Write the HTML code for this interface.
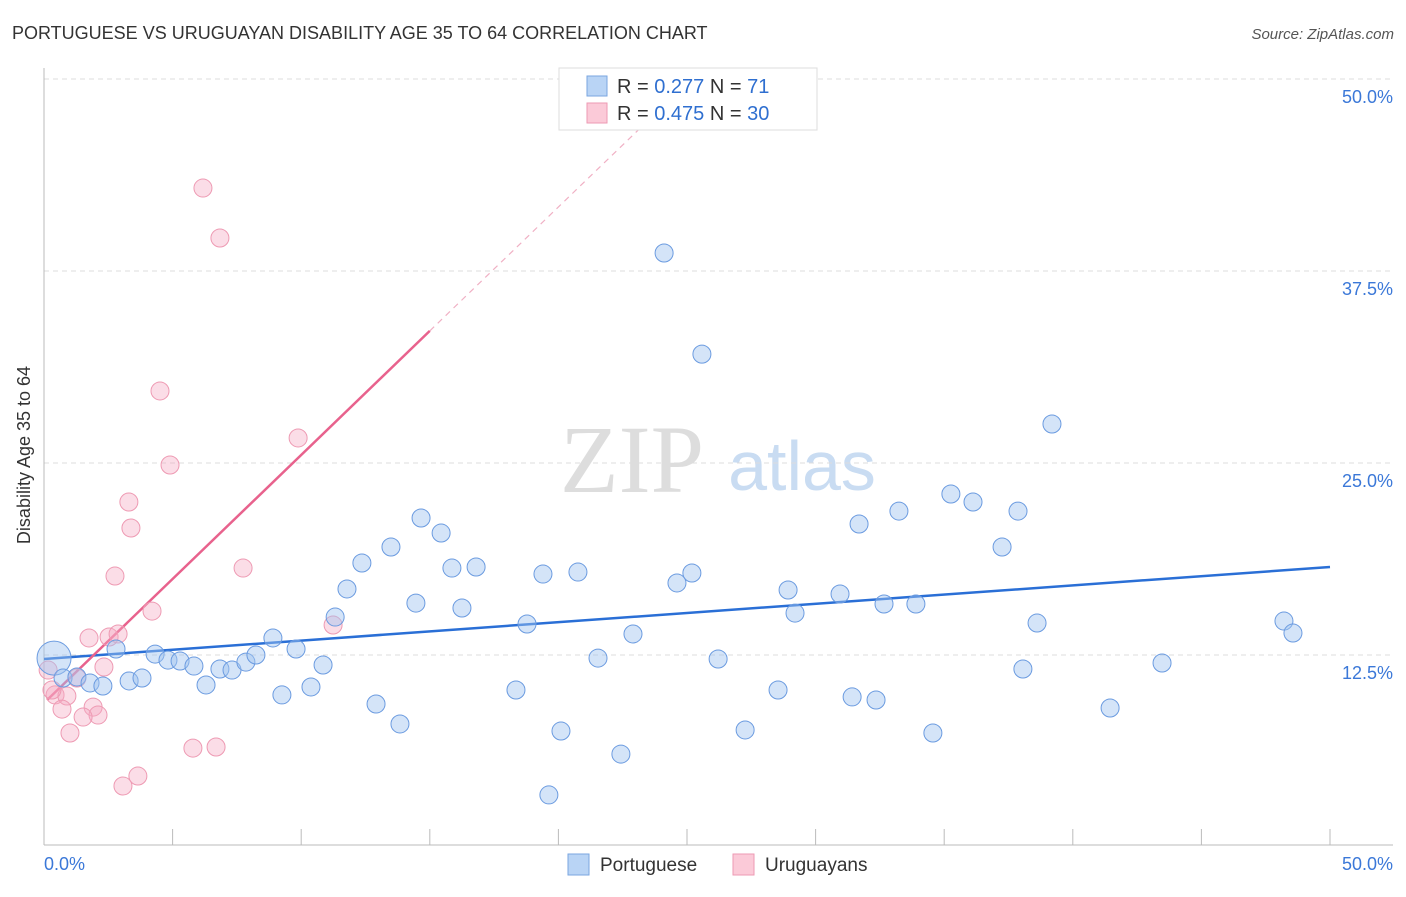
<!DOCTYPE html>
<html><head><meta charset="utf-8"><style>
body{margin:0;background:#fff;font-family:"Liberation Sans",sans-serif;}
</style></head><body>
<svg width="1406" height="892" viewBox="0 0 1406 892" xmlns="http://www.w3.org/2000/svg" id="svg">
<text x="12" y="39" font-size="18" fill="#333">PORTUGUESE VS URUGUAYAN DISABILITY AGE 35 TO 64 CORRELATION CHART</text>
<text x="1394" y="39" font-size="15" fill="#555" font-style="italic" text-anchor="end">Source: ZipAtlas.com</text>
<text x="30" y="455" font-size="18" fill="#333" text-anchor="middle" transform="rotate(-90 30 455)">Disability Age 35 to 64</text>
<g>
<text x="632" y="492" font-size="96" font-family="Liberation Serif,serif" fill="#ddd" text-anchor="middle">ZIP</text>
<text x="802" y="490" font-size="70" fill="#c9dcf2" text-anchor="middle">atlas</text>
</g>
<g id="grid"></g><g id="axes"></g><g id="lines"></g><g id="pts"></g>
<g>
<rect x="559" y="68" width="258" height="62" fill="#fff" stroke="#ddd"/>
<rect x="587" y="76" width="20" height="20" fill="#b9d4f5" stroke="#7aa6e0"/>
<text x="617" y="93" font-size="20" fill="#333">R = <tspan fill="#2f6fd0">0.277</tspan>   N =  <tspan fill="#2f6fd0">71</tspan></text>
<rect x="587" y="103" width="20" height="20" fill="#fbcad8" stroke="#ee9ab3"/>
<text x="617" y="120" font-size="20" fill="#333">R = <tspan fill="#2f6fd0">0.475</tspan>   N = <tspan fill="#2f6fd0">30</tspan></text>
</g>
<g>
<rect x="568" y="854" width="21" height="21" fill="#b9d4f5" stroke="#7aa6e0"/>
<text x="600" y="871" font-size="19" fill="#333">Portuguese</text>
<rect x="733" y="854" width="21" height="21" fill="#fbcad8" stroke="#ee9ab3"/>
<text x="765" y="871" font-size="19" fill="#333">Uruguayans</text>
</g>
</svg>
<script>
const blueX=[0.39,0.74,1.28,1.79,2.29,2.80,3.31,3.81,4.32,4.82,5.29,5.83,6.30,6.84,7.31,7.85,8.24,8.90,9.25,9.80,10.38,10.85,11.32,11.78,12.36,12.91,13.49,13.84,14.46,14.66,15.44,15.86,16.25,16.80,18.35,18.78,19.40,20.10,19.63,20.76,21.54,22.43,22.90,24.11,24.61,25.19,25.58,26.21,27.26,28.54,28.93,29.20,30.95,31.42,31.69,32.35,32.66,33.24,33.90,34.56,35.26,36.12,37.25,37.87,38.06,38.61,39.19,41.45,43.47,48.21,48.56];
const blueY=[12.30,11.00,11.07,10.68,10.48,12.89,10.81,11.00,12.56,12.17,12.11,11.78,10.55,11.59,11.52,12.04,12.50,13.61,9.90,12.89,10.42,11.85,14.97,16.80,18.49,9.31,19.53,8.01,15.88,21.42,20.44,18.16,15.56,18.23,10.22,14.52,17.77,7.55,3.39,17.90,12.30,6.05,13.87,38.67,17.19,17.84,32.09,12.24,7.62,10.22,16.73,15.23,16.47,9.77,21.03,9.57,15.82,21.87,15.82,7.42,22.98,22.46,19.53,21.87,11.59,14.58,27.54,9.05,11.98,14.71,13.93];
const pinkX=[2.76,7.74,4.20,1.75,2.53,2.88,2.33,1.28,0.16,0.43,0.89,0.70,1.91,2.10,1.52,1.01,5.79,6.69,3.07,3.65,11.24,6.18,6.84,4.51,4.90,3.30,3.38,9.88,0.31];
const pinkY=[17.64,18.16,15.36,13.61,13.67,13.87,11.72,11.00,11.52,9.90,9.83,8.98,9.11,8.59,8.46,7.42,6.44,6.51,3.97,4.62,14.45,42.90,39.65,29.69,24.87,22.46,20.77,26.63,10.22];
const blueLine=[[0,12.24],[50,18.23]];
const pinkLineSolid=[[0.12,9.57],[15.0,33.6]];
const pinkLineDash=[[15.0,33.6],[25.1,49.9]];
const yTicks=[12.5,25,37.5,50];
const yTickLabels=["12.5%","25.0%","37.5%","50.0%"];
const xTicks=[0,5,10,15,20,25,30,35,40,45,50];
const NS="http://www.w3.org/2000/svg";
const sx=v=>44+v*1286/50, sy=v=>847-v*192/12.5;
function mk(p,t,a){const e=document.createElementNS(NS,t);for(const k in a)e.setAttribute(k,a[k]);document.getElementById(p).appendChild(e);return e;}
yTicks.forEach((t,i)=>{
 const l=mk('grid','line',{x1:44,x2:1393,y1:sy(t),y2:sy(t),stroke:'#ddd','stroke-dasharray':'5 4'});
 
 
 const tx=mk('grid','text',{x:1393,y:sy(t)+24,'font-size':18,fill:'#3b78d8','text-anchor':'end'});
 tx.textContent=yTickLabels[i];
 
 
});
const ax=mk('axes','line',{x1:44,x2:1393,y1:845,y2:845,stroke:'#bbb'});


const ay=mk('axes','line',{x1:44,x2:44,y1:68,y2:845,stroke:'#bbb'});


xTicks.forEach(t=>{const l=mk('axes','line',{x1:sx(t),x2:sx(t),y1:829,y2:845,stroke:'#bbb'});
 
 });
let t0=mk('axes','text',{x:44,y:870,'font-size':18,fill:'#3b78d8'});t0.textContent='0.0%';


let t1=mk('axes','text',{x:1393,y:870,'font-size':18,fill:'#3b78d8','text-anchor':'end'});t1.textContent='50.0%';


pinkX.forEach((x,i)=>{const c=mk('pts','circle',{cx:sx(x),cy:sy(pinkY[i]),r:9,fill:'rgba(246,170,195,0.4)',stroke:'#ee9ab3','stroke-width':1});
 
 });
blueX.forEach((x,i)=>{const c=mk('pts','circle',{cx:sx(x),cy:sy(blueY[i]),r:i==0?17:9,fill:'rgba(160,195,240,0.45)',stroke:'#6b9be0','stroke-width':1});
 
 });
const bl=mk('lines','line',{x1:sx(blueLine[0][0]),y1:sy(blueLine[0][1]),x2:sx(blueLine[1][0]),y2:sy(blueLine[1][1]),stroke:'#2a6fd6','stroke-width':2.5});


const pl=mk('lines','line',{x1:sx(pinkLineSolid[0][0]),y1:sy(pinkLineSolid[0][1]),x2:sx(pinkLineSolid[1][0]),y2:sy(pinkLineSolid[1][1]),stroke:'#e8628d','stroke-width':2.5});


const pd=mk('lines','line',{x1:sx(pinkLineDash[0][0]),y1:sy(pinkLineDash[0][1]),x2:sx(pinkLineDash[1][0]),y2:sy(pinkLineDash[1][1]),stroke:'#f0b0c4','stroke-width':1.2,'stroke-dasharray':'6 5'});


</script>
</body></html>
